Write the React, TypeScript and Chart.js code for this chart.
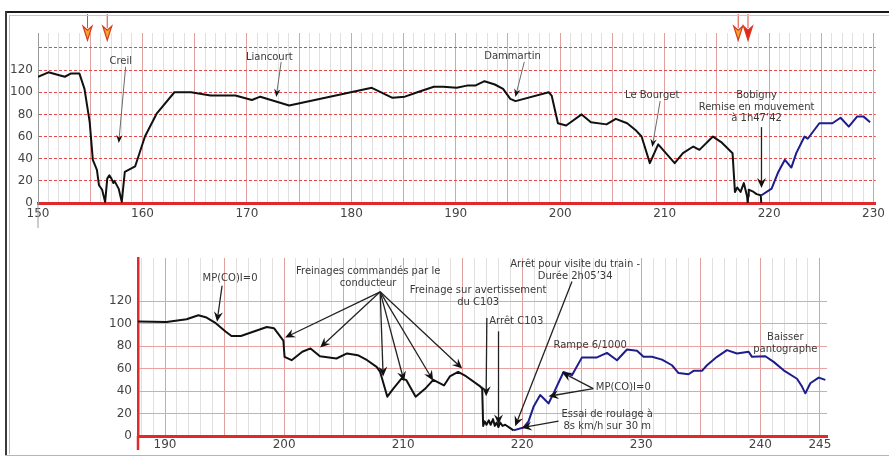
import React, { useEffect, useRef } from "react";
import { Chart, registerables } from "chart.js";

Chart.register(...registerables);

// ---------- Top panel data (km, km/h) ----------
const topBlackKm = [
  150.0, 151.0, 152.57, 153.17, 153.96, 154.45, 154.95, 155.25, 155.64, 155.84,
  156.14, 156.43, 156.63, 156.83, 157.03, 157.22, 157.32, 157.72, 158.02, 158.31,
  159.3, 160.24, 161.38, 163.06, 164.65, 166.53, 168.9, 170.48, 171.28, 174.05,
  181.96, 183.94, 185.13, 186.32, 187.9, 188.79, 190.08, 191.07, 191.86, 192.75,
  193.74, 194.53, 195.22, 195.72, 198.89, 199.18, 199.78, 200.57, 202.05, 202.94,
  204.43, 205.32, 206.41, 207.2, 207.79, 208.58, 209.38, 210.96, 211.75, 212.74,
  213.33, 214.62, 215.41, 216.5, 216.73, 216.95, 217.27, 217.58, 217.89, 217.95,
  218.0, 218.05, 218.52, 218.8, 219.2, 219.25,
];
const topBlackSpeed = [
  114, 118, 114, 117, 117, 103, 73, 39, 30, 16,
  12, 1, 22, 25, 22, 18, 20, 13, 1, 28,
  33, 60, 81, 100, 100, 97, 97, 93, 96, 88,
  104, 95, 96, 100, 105, 105, 104, 106, 106, 110,
  107, 103, 94, 92, 100, 97, 72, 70, 80, 73,
  71, 76, 72, 66, 60, 36, 53, 36, 45, 51,
  48, 60, 55, 45, 10, 14, 10, 18, 6, 0,
  6, 12, 10, 8, 7, 0,
];
const topBlueKm = [
  219.27, 220.24, 220.88, 221.51, 222.13, 222.6, 223.39, 223.7, 224.81, 226.06,
  226.84, 227.63, 228.42, 229.05, 229.67,
];
const topBlueSpeed = [7, 13, 28, 39, 32, 45, 60, 58, 72, 72, 77, 69, 78, 78, 73];
const topXLabels = [150, 160, 170, 180, 190, 200, 210, 220, 230];
const topYLabels = [0, 20, 40, 60, 80, 100, 120];

// ---------- Bottom panel data (km, km/h) ----------
const botBlackKm = [
  187.73, 190.12, 191.81, 192.8, 193.49, 194.19, 195.08, 195.58, 196.37, 198.55,
  199.15, 199.94, 200.04, 200.63, 201.53, 202.22, 203.01, 204.4, 205.29, 206.19,
  206.98, 207.77, 208.07, 208.67, 209.16, 209.86, 210.25, 211.05, 211.84, 212.53,
  213.43, 213.92, 214.62, 215.31, 216.5, 216.64, 216.72, 216.85, 217.0, 217.2,
  217.35, 217.55, 217.7, 217.85, 218.0, 218.15, 218.35, 218.57, 218.99, 219.27,
];
const botBlackSpeed = [
  102, 101.6, 104, 107.5, 105.5, 101, 93, 89, 89, 97,
  96, 85, 70.5, 67.5, 75, 78, 71, 69, 73.5, 72,
  67.5, 61.5, 57, 35, 42, 51, 50, 35, 42, 50,
  45, 53, 57, 53, 44, 42, 9, 13, 10, 14,
  10, 15, 9, 12, 8, 12, 9, 10, 7, 5,
];
const botBlueKm = [
  219.27, 220.11, 220.53, 220.95, 221.51, 221.85, 222.21, 222.63, 223.47, 224.18,
  225.02, 226.28, 227.12, 227.96, 228.8, 229.64, 230.19, 230.9, 231.74, 232.58,
  233.13, 233.97, 234.39, 235.1, 235.52, 236.36, 237.2, 238.04, 239.02, 239.3,
  240.42, 241.12, 241.96, 243.08, 243.5, 243.78, 244.2, 244.9, 245.46,
];
const botBlueSpeed = [
  5, 7.5, 13, 26, 36.5, 33, 29, 38, 57, 54,
  70, 70, 74, 67.5, 77, 76, 70.5, 70.5, 68, 63,
  56, 55, 58, 58, 63, 70.5, 76.5, 73.5, 75, 70.5,
  71, 66, 58.5, 51, 44, 38, 47, 52, 50,
];
const botXLabels = [190, 200, 210, 220, 230, 240, 245];
const botYLabels = [0, 20, 40, 60, 80, 100, 120];

// ---------- Annotations (data coordinates: km, km/h) ----------
const topNotes = [
  { lines: ["Creil"], km: 157.92, v: 127.4 },
  { lines: ["Liancourt"], km: 172.15, v: 131.9 },
  { lines: ["Dammartin"], km: 195.43, v: 132.8 },
  { lines: ["Le Bourget"], km: 208.81, v: 97.6 },
  { lines: ["Bobigny", "Remise en mouvement", "à 1h47’42"], km: 218.8, v: 96.7 },
];
const topArrows = [
  { from: [158.39, 123], to: [157.73, 54.2], bold: false },
  { from: [173.28, 127.4], to: [172.81, 95.8], bold: false },
  { from: [196.56, 127.4], to: [195.71, 95.8], bold: false },
  { from: [209.57, 92.1], to: [208.81, 50.6], bold: false },
  { from: [219.27, 68.5], to: [219.27, 13.5], bold: true },
];
const topMarkers = [
  { km: 154.74, fill: "#f6a524" },
  { km: 156.63, fill: "#f6a524" },
  { km: 217.04, fill: "#f6a524" },
  { km: 217.98, fill: "#e4241f" },
];
const markerTopV = 171;
const markerTipV = 147;

const botNotes = [
  { lines: ["MP(CO)I=0"], km: 195.46, v: 140 },
  { lines: ["Freinages commandés par le", "conducteur"], km: 207.06, v: 146.2 },
  { lines: ["Freinage sur avertissement", "du C103"], km: 216.3, v: 129.3 },
  { lines: ["Arrêt C103"], km: 219.5, v: 101.8 },
  { lines: ["Arrêt pour visite du train -", "Durée 2h05’34"], km: 224.45, v: 152.4 },
  { lines: ["Rampe 6/1000"], km: 225.71, v: 80.4 },
  { lines: ["MP(CO)I=0"], km: 228.49, v: 43.1 },
  { lines: ["Essai de roulage à", "8s km/h sur 30 m"], km: 227.14, v: 19.1 },
  { lines: ["Baisser", "pantographe"], km: 242.1, v: 87.6 },
];
const botArrows = [
  { from: [194.79, 133.8], to: [194.37, 101.8], bold: true },
  { from: [208.07, 128.4], to: [200.08, 87.6], bold: true },
  { from: [208.07, 128.4], to: [203.03, 78.7], bold: true },
  { from: [208.07, 128.4], to: [208.32, 52.9], bold: true },
  { from: [208.07, 128.4], to: [210.08, 48.7], bold: true },
  { from: [208.07, 128.4], to: [212.52, 49.3], bold: true },
  { from: [208.07, 128.4], to: [214.96, 60], bold: true },
  { from: [217.03, 105], to: [216.97, 35.4], bold: true },
  { from: [218.01, 93.2], to: [218.01, 10.2], bold: true },
  { from: [224.18, 137.6], to: [219.41, 8.7], bold: true },
  { from: [225.97, 42.2], to: [223.34, 56.7], bold: true },
  { from: [225.97, 42.2], to: [222.21, 35.4], bold: true },
  { from: [223.05, 13.2], to: [219.97, 7.3], bold: true },
];

const FONT = '"DejaVu Sans", "Liberation Sans", sans-serif';

function zip(xs: number[], ys: number[]) {
  return xs.map((x, i) => ({ x, y: ys[i] }));
}

function drawArrow(
  ctx: CanvasRenderingContext2D,
  x1: number, y1: number, x2: number, y2: number,
  lineColor: string, lineWidth: number, headLen: number, headW: number
) {
  const a = Math.atan2(y2 - y1, x2 - x1);
  const c = Math.cos(a), s = Math.sin(a);
  ctx.strokeStyle = lineColor;
  ctx.lineWidth = lineWidth;
  ctx.beginPath();
  ctx.moveTo(x1, y1);
  ctx.lineTo(x2 - c * headLen * 0.6, y2 - s * headLen * 0.6);
  ctx.stroke();
  ctx.fillStyle = "#111";
  ctx.beginPath();
  ctx.moveTo(x2, y2);
  ctx.lineTo(x2 - headLen * c + headW * s, y2 - headLen * s - headW * c);
  ctx.lineTo(x2 - headLen * 0.65 * c, y2 - headLen * 0.65 * s);
  ctx.lineTo(x2 - headLen * c - headW * s, y2 - headLen * s + headW * c);
  ctx.closePath();
  ctx.fill();
}

type Note = { lines: string[]; km: number; v: number };
type Arr = { from: number[]; to: number[]; bold: boolean };

function makeNotesPlugin(
  notes: Note[], arrows: Arr[], axisColor: string, axisWidth: number, axisExt: number,
  markers: { km: number; fill: string }[] | null
) {
  return {
    id: "notes",
    afterDatasetsDraw(chart: any) {
      const { ctx, scales, chartArea } = chart;
      const xs = scales.x, ys = scales.y;
      ctx.save();
      // axis extension below the x axis
      ctx.strokeStyle = axisColor;
      ctx.lineWidth = axisWidth;
      ctx.beginPath();
      ctx.moveTo(chartArea.left, chartArea.bottom);
      ctx.lineTo(chartArea.left, chartArea.bottom + axisExt);
      ctx.stroke();
      // arrows
      for (const a of arrows) {
        const x1 = xs.getPixelForValue(a.from[0]);
        const y1 = ys.getPixelForValue(a.from[1]);
        const x2 = xs.getPixelForValue(a.to[0]);
        const y2 = ys.getPixelForValue(a.to[1]);
        if (a.bold) drawArrow(ctx, x1, y1, x2, y2, "#222", 1.3, 10, 4.5);
        else drawArrow(ctx, x1, y1, x2, y2, "#6a6a6a", 1, 8, 3.2);
      }
      // texts
      ctx.font = `10px ${FONT}`;
      ctx.fillStyle = "#3a3a3a";
      ctx.textAlign = "center";
      ctx.textBaseline = "middle";
      for (const n of notes) {
        const x = xs.getPixelForValue(n.km);
        const y = ys.getPixelForValue(n.v);
        n.lines.forEach((t, i) => ctx.fillText(t, x, y + i * 11.5));
      }
      // top markers (signal arrows)
      if (markers) {
        for (const m of markers) {
          const x = xs.getPixelForValue(m.km);
          const yTop = ys.getPixelForValue(markerTopV);
          const yTip = ys.getPixelForValue(markerTipV);
          ctx.strokeStyle = "#e0463e";
          ctx.lineWidth = 1;
          ctx.beginPath();
          ctx.moveTo(x, yTop);
          ctx.lineTo(x, yTip - 12);
          ctx.stroke();
          ctx.fillStyle = m.fill;
          ctx.strokeStyle = "#d83a22";
          ctx.lineWidth = 1.2;
          ctx.beginPath();
          ctx.moveTo(x, yTip);
          ctx.lineTo(x - 4.5, yTip - 14);
          ctx.lineTo(x, yTip - 10);
          ctx.lineTo(x + 4.5, yTip - 14);
          ctx.closePath();
          ctx.fill();
          ctx.stroke();
        }
      }
      ctx.restore();
    },
  };
}

function buildConfig(p: {
  black: { x: number; y: number }[];
  blue: { x: number; y: number }[];
  xmin: number; xmax: number; ymax: number;
  xLabels: number[]; yLabels: number[];
  padTop: number; padRight: number; yWidth: number; xHeight: number;
  hGridColor: string; hDash: number[]; yBorderColor: string; yBorderWidth: number;
  yPad: number; xPad: number;
  plugin: any;
}) {
  return {
    type: "scatter" as const,
    data: {
      datasets: [
        {
          data: p.black, borderColor: "#111", borderWidth: 2, pointRadius: 0,
          showLine: true, tension: 0, borderJoinStyle: "round" as const,
        },
        {
          data: p.blue, borderColor: "#1d1d8c", borderWidth: 2, pointRadius: 0,
          showLine: true, tension: 0, borderJoinStyle: "round" as const,
        },
      ],
    },
    options: {
      responsive: false,
      animation: false as const,
      events: [],
      layout: {
        autoPadding: false,
        padding: { top: p.padTop, left: 0, right: p.padRight, bottom: 0 },
      },
      plugins: { legend: { display: false }, tooltip: { enabled: false } },
      scales: {
        x: {
          type: "linear" as const,
          min: p.xmin, max: p.xmax,
          afterFit: (s: any) => { s.height = p.xHeight; },
          ticks: {
            stepSize: 1, autoSkip: false, maxRotation: 0, minRotation: 0,
            includeBounds: false, maxTicksLimit: 1000, padding: p.xPad,
            color: "#444", font: { family: FONT, size: 12 },
            callback: (v: any) => (p.xLabels.includes(v) ? String(v) : ""),
          },
          grid: {
            drawTicks: false, lineWidth: 1,
            color: (c: any) => (c.tick && Math.round(c.tick.value) % 5 === 0 ? "#e0a0a0" : "#e2dfdf"),
          },
          border: { display: true, color: "#e2282b", width: 3 },
        },
        y: {
          type: "linear" as const,
          min: 0, max: p.ymax,
          afterFit: (s: any) => { s.width = p.yWidth; },
          ticks: {
            stepSize: 20, includeBounds: false, padding: p.yPad,
            color: "#444", font: { family: FONT, size: 12 },
            callback: (v: any) => (p.yLabels.includes(v) ? String(v) : ""),
          },
          grid: {
            drawTicks: false, lineWidth: 1,
            color: (c: any) =>
              c.tick && (c.tick.value === 0 || !p.yLabels.concat([140]).includes(c.tick.value) || (p.hDash.length === 0 && c.tick.value > 120))
                ? "rgba(0,0,0,0)"
                : p.hGridColor,
          },
          border: { display: true, color: p.yBorderColor, width: p.yBorderWidth, dash: p.hDash },
        },
      },
    },
    plugins: [p.plugin],
  };
}

export default function App() {
  const topRef = useRef<HTMLCanvasElement>(null);
  const botRef = useRef<HTMLCanvasElement>(null);

  useEffect(() => {
    const top = new Chart(
      topRef.current as HTMLCanvasElement,
      buildConfig({
        black: zip(topBlackKm, topBlackSpeed),
        blue: zip(topBlueKm, topBlueSpeed),
        xmin: 150, xmax: 230.2, ymax: 153.5,
        xLabels: topXLabels, yLabels: topYLabels,
        padTop: 19, padRight: 0, yWidth: 38, xHeight: 29,
        hGridColor: "#e2474a", hDash: [3, 2], yBorderColor: "#9a9a9a", yBorderWidth: 1,
        yPad: 5, xPad: 4,
        plugin: makeNotesPlugin(topNotes, topArrows, "#9a9a9a", 1, 25, topMarkers),
      }) as any
    );
    const bot = new Chart(
      botRef.current as HTMLCanvasElement,
      buildConfig({
        black: zip(botBlackKm, botBlackSpeed),
        blue: zip(botBlueKm, botBlueSpeed),
        xmin: 187.73, xmax: 245.6, ymax: 158.5,
        xLabels: botXLabels, yLabels: botYLabels,
        padTop: 26, padRight: 62, yWidth: 138, xHeight: 22,
        hGridColor: "#e8a2a2", hDash: [], yBorderColor: "#e2282b", yBorderWidth: 2.5,
        yPad: 6, xPad: 2,
        plugin: makeNotesPlugin(botNotes, botArrows, "#e2282b", 2.5, 14, null),
      }) as any
    );
    return () => {
      top.destroy();
      bot.destroy();
    };
  }, []);

  return (
    <div
      style={{
        position: "fixed", left: 0, top: 0, width: 889, height: 458,
        background: "#fff", overflow: "hidden",
      }}
    >
      <canvas
        ref={topRef}
        width={889}
        height={218}
        style={{ position: "absolute", left: 0, top: 14, display: "block" }}
      />
      <canvas
        ref={botRef}
        width={889}
        height={226}
        style={{ position: "absolute", left: 0, top: 232, display: "block" }}
      />
      {/* outer frame */}
      <div style={{ position: "absolute", left: 5, top: 11, width: 884, height: 2, background: "#1a1a1a" }} />
      <div style={{ position: "absolute", left: 9, top: 15, width: 880, height: 1, background: "#c8c8c8" }} />
      <div style={{ position: "absolute", left: 5, top: 11, width: 2, height: 445, background: "#3a3a3a" }} />
      <div style={{ position: "absolute", left: 9, top: 15, width: 1, height: 439, background: "#bdbdbd" }} />
      <div style={{ position: "absolute", left: 5, top: 455, width: 884, height: 1, background: "#b5b5b5" }} />
    </div>
  );
}
